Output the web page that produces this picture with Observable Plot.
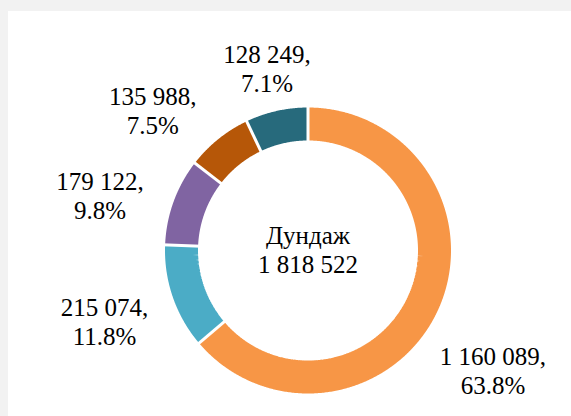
<!DOCTYPE html>
<html>
<head>
<meta charset="utf-8">
<script src="https://cdn.jsdelivr.net/npm/d3@7"></script>
<script src="https://cdn.jsdelivr.net/npm/@observablehq/plot@0.6"></script>
<style>
html, body { margin: 0; padding: 0; background: #f2f2f2; }
#chart { position: absolute; left: 8px; top: 11px; width: 563px; height: 405px; background: #ffffff; overflow: hidden; }
#chart svg { display: block; }
</style>
</head>
<body>
<div id="chart"></div>
<script>
// ---- data ----
const categories = ["Ангилал 1", "Ангилал 2", "Ангилал 3", "Ангилал 4", "Ангилал 5"];
const values = [1160089, 215074, 179122, 135988, 128249];
const colors = ["#F79646", "#4BACC6", "#8064A2", "#B65708", "#276A7C"];
const centerTitle = "Дундаж";

// ---- layout ----
const W = 563, H = 405, cx = 299.5, cy = 239;
const rOuter = 143, rInner = 110;
const fontSize = 25, lineH = 1.16;
const fontFamily = "Liberation Serif";
const labelR = 170, hhPlace = 12, gapP = 26, padX = 25, padY = 8;

const total = d3.sum(values);
const fmt = n => d3.format(",")(n).replace(/,/g, " ");
const pct = v => (v / total * 100).toFixed(1) + "%";

const pie = d3.pie().sort(null).value(d => d.value)(
  categories.map((c, i) => ({cat: c, value: values[i]}))
);

// ring as thick arcs
const ring = pie.flatMap(s => {
  const n = Math.max(2, Math.ceil((s.endAngle - s.startAngle) / (Math.PI / 360)));
  return d3.range(n + 1).map(k => ({cat: s.data.cat, a: s.startAngle + (s.endAngle - s.startAngle) * k / n}));
});
const rMid = (rOuter + rInner) / 2;
const bounds = pie.map(s => s.startAngle);

// labels
const ctx = document.createElement("canvas").getContext("2d");
ctx.font = `${fontSize}px "Liberation Serif", serif`;
function place(a, hw, hh) {
  const ux = Math.sin(a), uy = -Math.cos(a);
  let lo = 0, hi = 1000;
  for (let k = 0; k < 60; k++) {
    const t = (lo + hi) / 2;
    const dx = Math.max(0, Math.abs(t * ux) - hw), dy = Math.max(0, Math.abs(t * uy) - hh);
    if (Math.hypot(dx, dy) < labelR) lo = t; else hi = t;
  }
  return [hi * ux, hi * uy];
}
const labels = pie.map(s => {
  const lines = [fmt(s.data.value) + ",", pct(s.data.value)];
  const hw = d3.max(lines, l => ctx.measureText(l).width) / 2;
  const hh = lines.length * fontSize * lineH / 2;
  return {text: lines.join("\n"), hw, hh, mid: (s.startAngle + s.endAngle) / 2};
});
const placed = [];
function ok(L, x, y) {
  if (x - L.hw < -cx + padX || x + L.hw > W - cx - padX) return false;
  if (y - L.hh < -cy + padY || y + L.hh > H - cy - padY) return false;
  for (const P of placed) {
    if (Math.abs(P.x - x) < P.hw + L.hw + gapP && Math.abs(P.y - y) < P.hh + L.hh + gapP) return false;
  }
  return true;
}
for (let i = labels.length - 1; i >= 0; i--) {
  const L = labels[i];
  let done = false;
  for (let k = 0; k < 720 && !done; k++) {
    for (const sgn of (k === 0 ? [1] : [-1, 1])) {
      const a = L.mid + sgn * k * Math.PI / 720;
      const [x, y] = place(a, L.hw, hhPlace);
      if (ok(L, x, y)) { L.x = x; L.y = y; done = true; break; }
    }
  }
  if (!done) { const [x, y] = place(L.mid, L.hw, hhPlace); L.x = x; L.y = y; }
  placed.push(L);
}

const chart = Plot.plot({
  width: W, height: H,
  margin: 0, inset: 0,
  x: {domain: [-cx, W - cx], range: [0, W], axis: null},
  y: {domain: [-cy, H - cy], range: [0, H], axis: null},
  color: {domain: categories, range: colors},
  style: {background: "white", fontFamily: "Liberation Serif, serif"},
  marks: [
    Plot.line(ring, {
      x: d => rMid * Math.sin(d.a), y: d => -rMid * Math.cos(d.a),
      z: "cat", stroke: "cat", strokeWidth: rOuter - rInner,
      strokeLinecap: "butt", strokeLinejoin: "miter", curve: "linear"
    }),
    Plot.link(bounds, {
      x1: a => (rInner - 3) * Math.sin(a), y1: a => -(rInner - 3) * Math.cos(a),
      x2: a => (rOuter + 3) * Math.sin(a), y2: a => -(rOuter + 3) * Math.cos(a),
      stroke: "white", strokeWidth: 3
    }),
    Plot.text(labels, {
      x: "x", y: "y", text: "text",
      fontSize, fontFamily, lineHeight: lineH,
      textAnchor: "middle", lineAnchor: "middle", fill: "black"
    }),
    Plot.text([{t: centerTitle + "\n" + fmt(total)}], {
      x: 0, y: -1, text: "t",
      fontSize, fontFamily, lineHeight: lineH,
      textAnchor: "middle", lineAnchor: "middle", fill: "black"
    })
  ]
});
document.getElementById("chart").appendChild(chart);
</script>
</body>
</html>
